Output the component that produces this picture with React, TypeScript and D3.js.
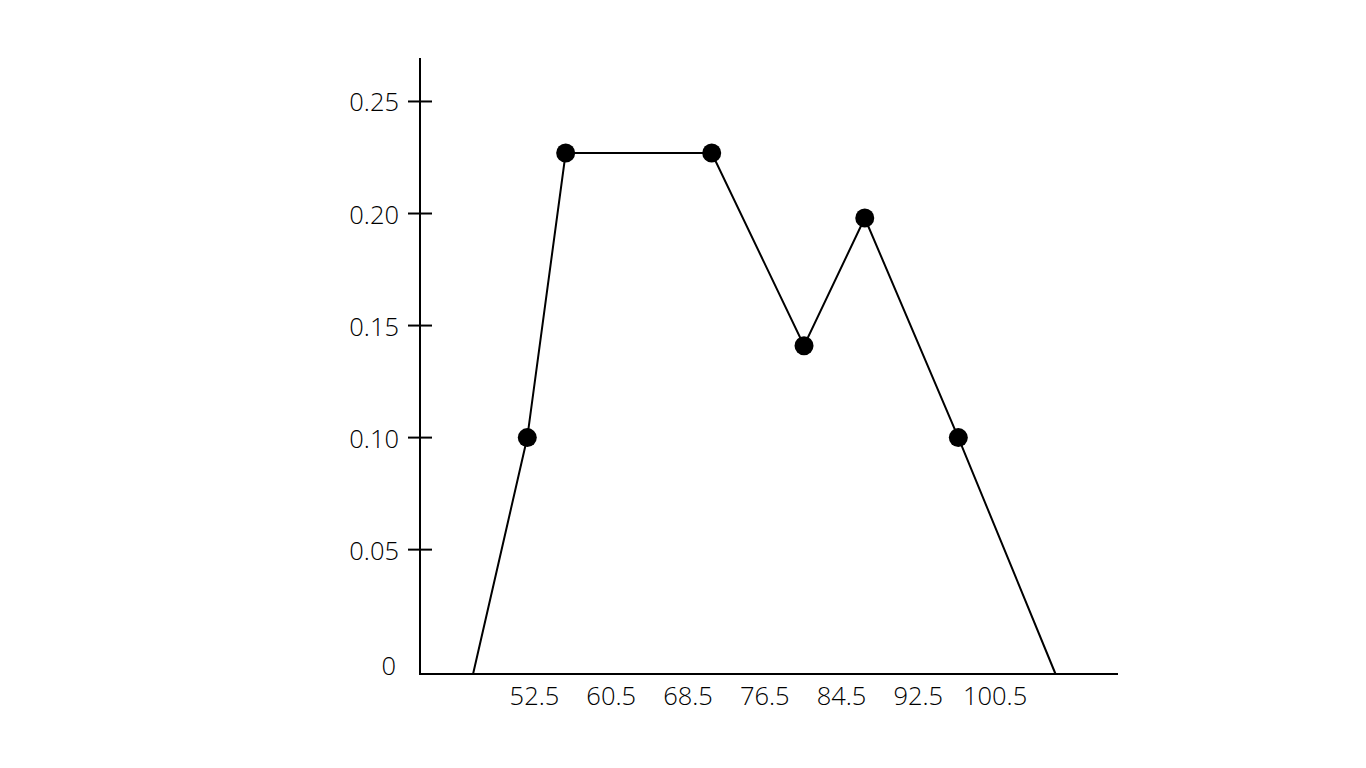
import React from "react";
import * as d3 from "d3";

// Frequency polygon data (x position in class units, relative frequency)
const pointX = [51.75, 55.75, 70.97, 80.59, 86.92, 96.67];
const pointY = [0.1, 0.227, 0.227, 0.141, 0.198, 0.1];
// polygon end points that sit on the x axis
const startX = 46.1;
const endX = 106.8;

const xTickLabels = ["52.5", "60.5", "68.5", "76.5", "84.5", "92.5", "100.5"];
const xTickValues = [52.5, 60.5, 68.5, 76.5, 84.5, 92.5, 100.5];
const yTickValues = [0.05, 0.1, 0.15, 0.2, 0.25];
const yTickLabels = ["0.05", "0.10", "0.15", "0.20", "0.25"];

const W = 1366;
const H = 768;
const FONT = "'Open Sans', 'Noto Sans', sans-serif";
const FS = 25.5;

export default function App() {
  const x = d3.scaleLinear().domain([40.57, 113.31]).range([420, 1118]);
  const y = d3.scaleLinear().domain([-0.0055, 0.2694]).range([674, 58]);
  const baseY = y.range()[0];
  const axisX = x.range()[0];

  const pts: [number, number][] = [
    [x(startX), baseY],
    ...pointX.map((px, i) => [x(px), y(pointY[i])] as [number, number]),
    [x(endX), baseY],
  ];
  const line = d3.line<[number, number]>().x((d) => d[0]).y((d) => d[1]);

  return (
    <svg width={W} height={H} style={{ position: "absolute", left: 0, top: 0, background: "#fff" }}>
      {/* axes */}
      <line x1={axisX} x2={axisX} y1={y.range()[1]} y2={baseY + 1} stroke="#000" strokeWidth={2} />
      <line x1={axisX - 1} x2={x.range()[1]} y1={baseY} y2={baseY} stroke="#000" strokeWidth={2} />
      {/* y ticks */}
      {yTickValues.map((v, i) => (
        <g key={i}>
          <line x1={axisX - 12} x2={axisX + 12} y1={y(v)} y2={y(v)} stroke="#000" strokeWidth={2} />
          <text
            x={axisX - 21}
            y={y(v)}
            textAnchor="end"
            dominantBaseline="central"
            fontFamily={FONT}
            fontWeight={300}
            fontSize={FS}
            fill="#000"
          >
            {yTickLabels[i]}
          </text>
        </g>
      ))}
      <text
        x={axisX - 24}
        y={y(0) + 3}
        textAnchor="end"
        dominantBaseline="central"
        fontFamily={FONT}
        fontWeight={300}
        fontSize={FS}
        fill="#000"
      >
        0
      </text>
      {/* x labels */}
      {xTickValues.map((v, i) => (
        <text
          key={i}
          x={x(v)}
          y={baseY + 31}
          textAnchor="middle"
          fontFamily={FONT}
          fontWeight={300}
          fontSize={FS}
          fill="#000"
        >
          {xTickLabels[i]}
        </text>
      ))}
      {/* polygon line */}
      <path d={line(pts) || ""} fill="none" stroke="#000" strokeWidth={2} />
      {pointX.map((px, i) => (
        <circle key={i} cx={x(px)} cy={y(pointY[i])} r={9.5} fill="#000" />
      ))}
    </svg>
  );
}
